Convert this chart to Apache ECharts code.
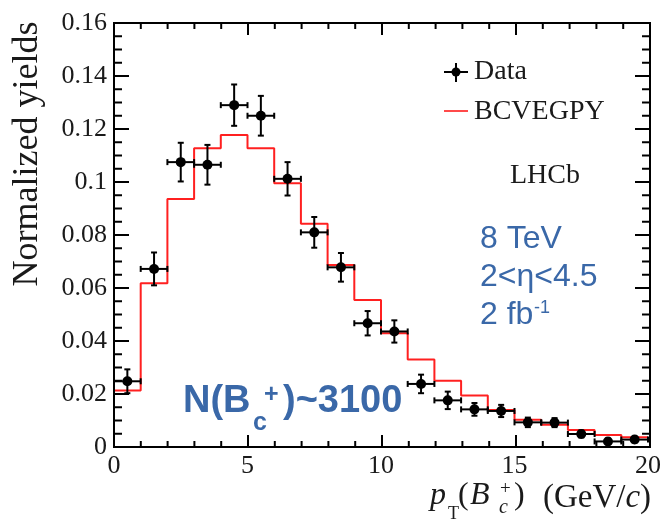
<!DOCTYPE html>
<html>
<head>
<meta charset="utf-8">
<script src="https://cdn.jsdelivr.net/npm/echarts@6/dist/echarts.min.js"></script>
<style>
html,body{margin:0;padding:0;background:#fff}
#wrap{position:relative;width:664px;height:528px}
#c,#f{position:absolute;left:0;top:0;width:664px;height:528px}
#f{z-index:2;pointer-events:none}
</style>
</head>
<body>
<div id="wrap"><div id="c"></div><div id="f"></div></div>
<script>
// ---- data ----
const binEdges = [0,1,2,3,4,5,6,7,8,9,10,11,12,13,14,15,16,17,18,19,20];
const dataCenters = [0.5,1.5,2.5,3.5,4.5,5.5,6.5,7.5,8.5,9.5,10.5,11.5,12.5,13.5,14.5,15.5,16.5,17.5,18.5,19.5];
const dataValues = [0.0248,0.0672,0.1075,0.1065,0.129,0.125,0.1012,0.081,0.0678,0.0467,0.0436,0.0238,0.0176,0.0142,0.0136,0.0093,0.0092,0.0049,0.0021,0.0028];
const dataErrors = [0.0045,0.0062,0.0073,0.0075,0.0078,0.0075,0.0063,0.0058,0.0054,0.0046,0.0042,0.0035,0.0033,0.0024,0.0023,0.0018,0.0017,0.0013,0.0011,0.0011];
const mcValues = [0.0213,0.0618,0.0936,0.1127,0.1177,0.1127,0.0995,0.0842,0.0687,0.0555,0.0429,0.0330,0.0250,0.0194,0.0140,0.0103,0.0084,0.0064,0.0045,0.0037];
const xTicks = [0,5,10,15,20];
const yTicks = [0,0.02,0.04,0.06,0.08,0.1,0.12,0.14,0.16];
const xMinorPerMajor = 5;
const yMinorPerMajor = 4;

const SERIF = "'Liberation Serif','Times New Roman','DejaVu Serif',serif";
const SANS = "'Liberation Sans',Arial,sans-serif";
const BLUE = '#3a68a8';
const RED = '#ff2020';
const INK = '#1a1a1a';

const xMin = xTicks[0], xMax = xTicks[xTicks.length-1];
const yMin = yTicks[0], yMax = yTicks[yTicks.length-1];
const GRID = {left: 114, right: 14, top: 23, bottom: 81};

// histogram outline points built from bins
const histPts = [[binEdges[0], 0]];
mcValues.forEach((v, i) => { histPts.push([binEdges[i], v]); histPts.push([binEdges[i+1], v]); });

const dataRows = dataCenters.map((x, i) => [x, dataValues[i], dataErrors[i], binEdges[i], binEdges[i+1]]);

// inward tick marks on all four sides, derived from the tick arrays: [x, y, kind, len]
const tickRows = [];
for (let i = 0; i < xTicks.length; i++) {
  tickRows.push([xTicks[i], yMin, 0, 12]);
  if (i < xTicks.length - 1) {
    const step = (xTicks[i+1] - xTicks[i]) / xMinorPerMajor;
    for (let k = 1; k < xMinorPerMajor; k++) tickRows.push([xTicks[i] + k*step, yMin, 0, 6]);
  }
}
for (let i = 0; i < yTicks.length; i++) {
  tickRows.push([xMin, yTicks[i], 1, 15]);
  if (i < yTicks.length - 1) {
    const step = (yTicks[i+1] - yTicks[i]) / yMinorPerMajor;
    for (let k = 1; k < yMinorPerMajor; k++) tickRows.push([xMin, yTicks[i] + k*step, 1, 8]);
  }
}

function axes(showLabels) {
  return {
    xAxis: {
      type: 'value', min: xMin, max: xMax, interval: xTicks[1]-xTicks[0],
      axisLine: {show: false}, axisTick: {show: false}, minorTick: {show: false}, splitLine: {show: false},
      axisLabel: {show: showLabels, fontFamily: SERIF, fontSize: 26, color: INK, margin: 6}
    },
    yAxis: {
      type: 'value', min: yMin, max: yMax, interval: yTicks[1]-yTicks[0],
      axisLine: {show: false}, axisTick: {show: false}, minorTick: {show: false}, splitLine: {show: false},
      axisLabel: {show: showLabels, fontFamily: SERIF, fontSize: 26, color: INK, margin: 7}
    }
  };
}

function txt(text, x, y, opts) {
  return {type: 'text', x: x, y: y, z: 100, style: Object.assign({text: text, fontFamily: SERIF, fontSize: 32, fill: INK, align: 'left', verticalAlign: 'middle'}, opts || {})};
}

const graphics = [
  {type: 'text', x: 28, y: 154, rotation: Math.PI/2, z: 100, style: {text: 'Normalized yields', fontFamily: SERIF, fontSize: 36, fill: INK, align: 'center', verticalAlign: 'middle'}},
  txt('p', 430, 496, {fontStyle: 'italic'}),
  txt('T', 448, 514, {fontSize: 18}),
  txt('(', 458, 496),
  txt('B', 470, 496, {fontStyle: 'italic'}),
  txt('+', 500, 489, {fontSize: 19}),
  txt('c', 499, 508, {fontSize: 20, fontStyle: 'italic'}),
  txt(')', 514, 496),
  {type: 'text', x: 543, y: 498, z: 100, style: {text: '(GeV/{i|c})', fontFamily: SERIF, fontSize: 33, fill: INK, align: 'left', verticalAlign: 'middle', rich: {i: {fontStyle: 'italic', fontFamily: SERIF, fontSize: 33, fill: INK}}}},
  {type: 'line', z: 100, shape: {x1: 444, y1: 72, x2: 468, y2: 72}, style: {stroke: '#000', lineWidth: 2}},
  {type: 'line', z: 100, shape: {x1: 456, y1: 63, x2: 456, y2: 82}, style: {stroke: '#000', lineWidth: 2}},
  {type: 'circle', z: 101, shape: {cx: 456, cy: 72, r: 4.5}, style: {fill: '#000'}},
  txt('Data', 474, 72, {fontSize: 28}),
  {type: 'line', z: 100, shape: {x1: 444, y1: 111, x2: 468, y2: 111}, style: {stroke: '#ff4a4a', lineWidth: 2}},
  txt('BCVEGPY', 474, 112, {fontSize: 28}),
  txt('LHCb', 510, 176, {fontSize: 28}),
  txt('8 TeV', 480, 239, {fontFamily: SANS, fontSize: 32, fill: BLUE}),
  txt('2<η<4.5', 480, 277, {fontFamily: SANS, fontSize: 32, fill: BLUE}),
  txt('2 fb', 480, 315, {fontFamily: SANS, fontSize: 32, fill: BLUE}),
  txt('-1', 534, 308, {fontFamily: SANS, fontSize: 18, fill: BLUE}),
  txt('N(B', 183, 402, {fontFamily: SANS, fontSize: 38, fontWeight: 'bold', fill: BLUE}),
  txt('c', 253, 423, {fontFamily: SANS, fontSize: 25, fontWeight: 'bold', fill: BLUE}),
  txt('+', 264, 395, {fontFamily: SANS, fontSize: 25, fontWeight: 'bold', fill: BLUE}),
  txt(')~3100', 283, 402, {fontFamily: SANS, fontSize: 38, fontWeight: 'bold', fill: BLUE})
];

// ---- main chart: histogram, data points, labels, annotations ----
const chart = echarts.init(document.getElementById('c'));
const ax1 = axes(true);
chart.setOption({
  animation: false,
  backgroundColor: '#fff',
  grid: Object.assign({}, GRID),
  xAxis: ax1.xAxis,
  yAxis: ax1.yAxis,
  graphic: graphics,
  series: [
    {
      name: 'BCVEGPY', type: 'line',
      data: histPts, showSymbol: false, symbol: 'none',
      lineStyle: {color: RED, width: 2}, z: 2
    },
    {
      name: 'Data', type: 'custom', data: dataRows, encode: {x: 0, y: 1}, z: 3,
      renderItem: function (params, api) {
        const x = api.value(0), y = api.value(1), e = api.value(2), lo = api.value(3), hi = api.value(4);
        const c = api.coord([x, y]);
        const l = api.coord([lo, y]);
        const r = api.coord([hi, y]);
        const t = api.coord([x, y + e]);
        const b = api.coord([x, Math.max(0, y - e)]);
        const st = {stroke: '#000', lineWidth: 2};
        const cap = 3;
        return {
          type: 'group',
          children: [
            {type: 'line', shape: {x1: l[0], y1: c[1], x2: r[0], y2: c[1]}, style: st},
            {type: 'line', shape: {x1: c[0], y1: t[1], x2: c[0], y2: b[1]}, style: st},
            {type: 'line', shape: {x1: c[0]-cap, y1: t[1], x2: c[0]+cap, y2: t[1]}, style: st},
            {type: 'line', shape: {x1: c[0]-cap, y1: b[1], x2: c[0]+cap, y2: b[1]}, style: st},
            {type: 'line', shape: {x1: l[0], y1: c[1]-cap, x2: l[0], y2: c[1]+cap}, style: st},
            {type: 'line', shape: {x1: r[0], y1: c[1]-cap, x2: r[0], y2: c[1]+cap}, style: st},
            {type: 'circle', shape: {cx: c[0], cy: c[1], r: 5}, style: {fill: '#000'}}
          ]
        };
      }
    }
  ]
});

// ---- overlay chart with identical grid/axes: frame and inward ticks ----
const frameChart = echarts.init(document.getElementById('f'));
const ax2 = axes(false);
frameChart.setOption({
  animation: false,
  backgroundColor: 'transparent',
  grid: Object.assign({show: true, borderColor: '#000', borderWidth: 2, backgroundColor: 'transparent'}, GRID),
  xAxis: ax2.xAxis,
  yAxis: ax2.yAxis,
  series: [
    {
      type: 'custom', data: tickRows, encode: {x: 0, y: 1},
      renderItem: function (params, api) {
        const kind = api.value(2), len = api.value(3);
        const st = {stroke: '#000', lineWidth: 2};
        if (kind === 0) {
          const b = api.coord([api.value(0), yMin]), t = api.coord([api.value(0), yMax]);
          return {type: 'group', children: [
            {type: 'line', shape: {x1: b[0], y1: b[1], x2: b[0], y2: b[1]-len}, style: st},
            {type: 'line', shape: {x1: t[0], y1: t[1], x2: t[0], y2: t[1]+len}, style: st}
          ]};
        }
        const l = api.coord([xMin, api.value(1)]), r = api.coord([xMax, api.value(1)]);
        return {type: 'group', children: [
          {type: 'line', shape: {x1: l[0], y1: l[1], x2: l[0]+len, y2: l[1]}, style: st},
          {type: 'line', shape: {x1: r[0], y1: r[1], x2: r[0]-len, y2: r[1]}, style: st}
        ]};
      }
    }
  ]
});
</script>
</body>
</html>
